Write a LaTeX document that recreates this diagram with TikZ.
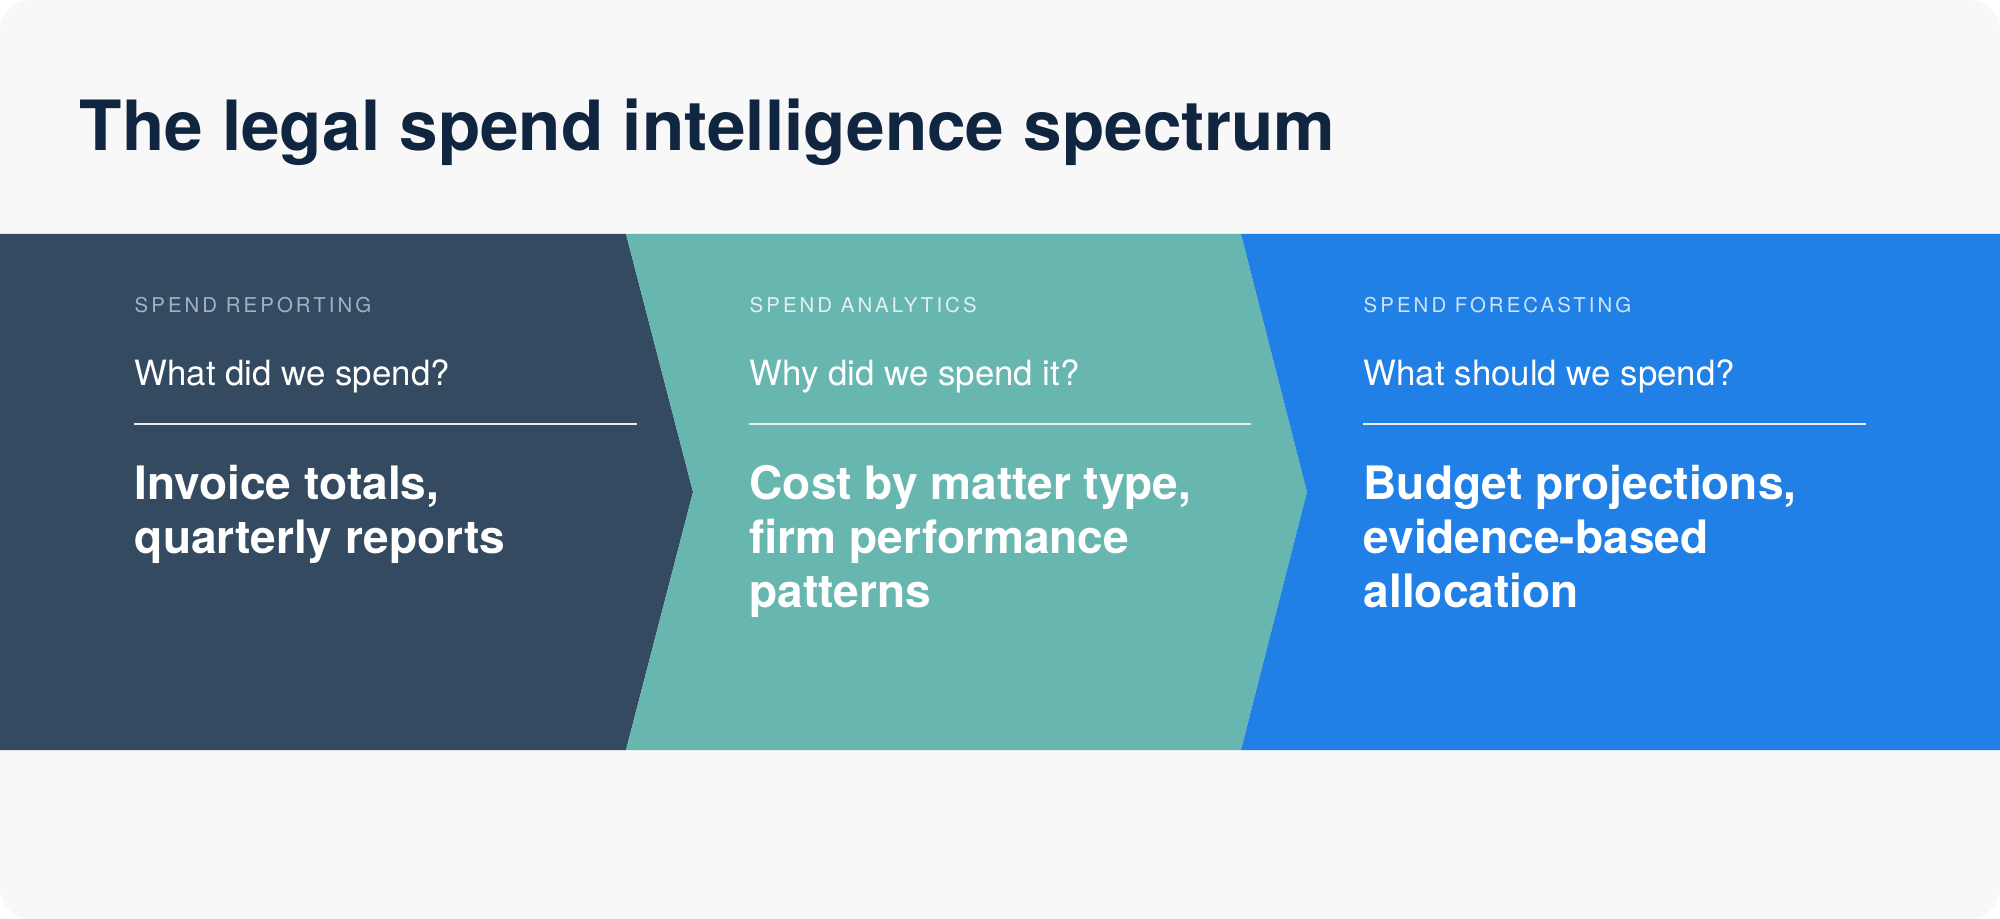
\documentclass[tikz,border=0pt]{standalone}
\usepackage{fontspec}
\setmainfont{TeX Gyre Heros}
\newfontfamily\capsfont[LetterSpace=15]{TeX Gyre Heros}
\usepackage{tikz}
\usetikzlibrary{positioning}

\definecolor{pagebg}{HTML}{F8F8F8}
\definecolor{titleink}{HTML}{0F2540}
\definecolor{navypanel}{HTML}{334A60}
\definecolor{tealpanel}{HTML}{68B6B0}
\definecolor{bluepanel}{HTML}{2180E5}
\definecolor{navycap}{HTML}{A2B2C4}
\definecolor{tealcap}{HTML}{E2F1EF}
\definecolor{bluecap}{HTML}{CFE2F8}

\tikzset{
	stagecap/.style={anchor=base west, inner sep=0pt, font=\capsfont\fontsize{5.8}{7}\selectfont},
	question/.style={anchor=base west, inner sep=0pt, text=white, font=\fontsize{9.9}{12}\selectfont},
	answer/.style={anchor=base west, inner sep=0pt, text=white, align=left, font=\bfseries\fontsize{13.1}{15.4}\selectfont},
	rule/.style={draw=white!92!black, line width=0.45pt}
}

\begin{document}
\begin{tikzpicture}[x=0.01cm,y=-0.01cm]
		% page
		\fill[white] (0,0) rectangle (2000,919);
		\fill[pagebg, rounded corners=9pt] (0,0) rectangle (2000,919);
		\useasboundingbox (0,0) rectangle (2000,919);
		
		\node[anchor=base west, inner sep=0pt, text=titleink, font=\bfseries\fontsize{19.7}{22}\selectfont] (title) at (79,151) {The legal spend intelligence spectrum};
		
		% the three chevrons
		\fill[navypanel] (0,234) -- (626,234) -- (693,492) -- (626,750) -- (0,750) -- cycle;
		\fill[tealpanel] (626,234) -- (1241,234) -- (1307,492) -- (1241,750) -- (626,750) -- (693,492) -- cycle;
		\fill[bluepanel] (1241,234) -- (2000,234) -- (2000,750) -- (1241,750) -- (1307,492) -- cycle;
		
		% reporting (answer anchored on its last line)
		\node[stagecap, text=navycap] (repcap) at (134,313) {SPEND REPORTING};
		\node[question] (repq) at (134,386) {What did we spend?};
		\coordinate (repa) at (134,424);
		\coordinate (repb) at (637,424);
		\draw[rule] (repa) -- (repb);
		\node[answer] (reptext) at (134,554) {Invoice totals,\\quarterly reports};
		
		% analytics
		\node[stagecap, text=tealcap] (anacap) at (749,313) {SPEND ANALYTICS};
		\node[question] (anaq) at (749,386) {Why did we spend it?};
		\coordinate (anaa) at (749,424);
		\coordinate (anab) at (1251,424);
		\draw[rule] (anaa) -- (anab);
		\node[answer] (anatext) at (749,608) {Cost by matter type,\\firm performance\\patterns};
		
		% forecasting
		\node[stagecap, text=bluecap] (forcap) at (1363,313) {SPEND FORECASTING};
		\node[question] (forq) at (1363,386) {What should we spend?};
		\coordinate (fora) at (1363,424);
		\coordinate (forb) at (1866,424);
		\draw[rule] (fora) -- (forb);
		\node[answer] (fortext) at (1363,608) {Budget projections,\\evidence-based\\allocation};
		
\end{tikzpicture}
\end{document}
